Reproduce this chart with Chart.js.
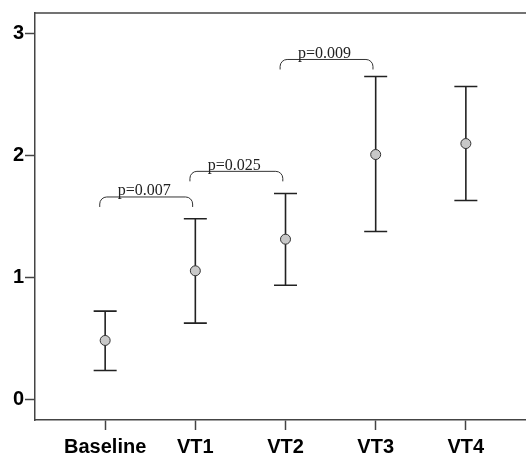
<!DOCTYPE html>
<html>
<head>
<meta charset="utf-8">
<script src="https://cdn.jsdelivr.net/npm/chart.js@4/dist/chart.umd.min.js"></script>
<style>
  html, body { margin: 0; padding: 0; background: #fff; overflow: hidden; }
  #wrap { width: 533px; height: 453px; position: relative; }
</style>
</head>
<body>
<div id="wrap"><canvas id="chart"></canvas></div>
<script>
// --- data ---
const groups = ['Baseline', 'VT1', 'VT2', 'VT3', 'VT4'];
const means = [0.484, 1.055, 1.314, 2.008, 2.098];
const upper = [0.724, 1.481, 1.689, 2.648, 2.566];
const lower = [0.238, 0.626, 0.937, 1.377, 1.631];
const yTicks = [0, 1, 2, 3];

// significance brackets: from group, to group, height, label
const bracketFrom = [0, 1, 2];
const bracketTo = [1, 2, 3];
const bracketY = [1.66, 1.87, 2.787];
const bracketLabels = ['p=0.007', 'p=0.025', 'p=0.009'];

const AXIS_COLOR = '#444';
const BAR_COLOR = '#222';

// --- error bars (drawn under the points) ---
const errorBars = {
  id: 'errorBars',
  beforeDatasetsDraw(chart) {
    const { ctx, scales: { x, y } } = chart;
    ctx.save();
    ctx.strokeStyle = BAR_COLOR;
    ctx.lineWidth = 1.6;
    groups.forEach((g, i) => {
      const px = x.getPixelForValue(i);
      const top = y.getPixelForValue(upper[i]);
      const bot = y.getPixelForValue(lower[i]);
      ctx.beginPath();
      ctx.moveTo(px, top); ctx.lineTo(px, bot);
      ctx.moveTo(px - 11.5, top); ctx.lineTo(px + 11.5, top);
      ctx.moveTo(px - 11.5, bot); ctx.lineTo(px + 11.5, bot);
      ctx.stroke();
    });
    ctx.restore();
  }
};

// --- p-value brackets + top frame line ---
const brackets = {
  id: 'brackets',
  afterDraw(chart) {
    const { ctx, chartArea, scales: { x, y } } = chart;
    ctx.save();
    // top frame
    ctx.strokeStyle = AXIS_COLOR;
    ctx.lineWidth = 1.5;
    ctx.beginPath();
    ctx.moveTo(chartArea.left, chartArea.top);
    ctx.lineTo(chartArea.right, chartArea.top);
    ctx.stroke();

    ctx.strokeStyle = '#333';
    ctx.lineWidth = 1;
    ctx.fillStyle = '#222';
    ctx.font = '16px "Liberation Serif", "Times New Roman", serif';
    ctx.textAlign = 'center';
    ctx.textBaseline = 'alphabetic';
    bracketLabels.forEach((lab, i) => {
      const x0 = x.getPixelForValue(bracketFrom[i] - 0.06);
      const x1 = x.getPixelForValue(bracketTo[i] - 0.03);
      const yy = y.getPixelForValue(bracketY[i]);
      const drop = 10, r = 7;
      ctx.beginPath();
      ctx.moveTo(x0, yy + drop);
      ctx.arcTo(x0, yy, x0 + r, yy, r);
      ctx.lineTo(x1 - r, yy);
      ctx.arcTo(x1, yy, x1, yy + drop, r);
      ctx.lineTo(x1, yy + drop);
      ctx.stroke();
      ctx.fillText(lab, (x0 + x1) / 2 - 2, yy - 1.5);
    });
    ctx.restore();
  }
};

new Chart(document.getElementById('chart'), {
  type: 'scatter',
  data: {
    datasets: [{
      data: means.map((m, i) => ({ x: i, y: m })),
      pointRadius: 5,
      pointHoverRadius: 5,
      backgroundColor: '#c8c8c8',
      borderColor: '#333',
      borderWidth: 1
    }]
  },
  options: {
    responsive: true,
    maintainAspectRatio: false,
    animation: false,
    layout: { padding: { top: 13, left: 0, right: 0, bottom: 0 } },
    plugins: { legend: { display: false }, tooltip: { enabled: false } },
    scales: {
      x: {
        type: 'linear',
        min: -0.778,
        max: 4.678,
        afterBuildTicks: s => { s.ticks = groups.map((g, i) => ({ value: i })); },
        afterFit: s => { s.height = 33; },
        ticks: {
          callback: v => groups[v],
          color: '#000',
          font: { family: '"Liberation Sans", Arial, sans-serif', size: 20, weight: 'bold' },
          padding: 5,
          maxRotation: 0,
          autoSkip: false
        },
        grid: { drawOnChartArea: false, drawTicks: true, tickLength: 10, tickColor: AXIS_COLOR, tickWidth: 1.5 },
        border: { display: true, color: AXIS_COLOR, width: 1.5 }
      },
      y: {
        min: -0.168,
        max: 3.168,
        afterBuildTicks: s => { s.ticks = yTicks.map(v => ({ value: v })); },
        afterFit: s => { s.width = 35; },
        ticks: {
          color: '#000',
          font: { family: '"Liberation Sans", Arial, sans-serif', size: 20, weight: 'bold' },
          padding: 1
        },
        grid: { drawOnChartArea: false, drawTicks: true, tickLength: 10, tickColor: AXIS_COLOR, tickWidth: 1.5 },
        border: { display: true, color: AXIS_COLOR, width: 1.5 }
      }
    }
  },
  plugins: [errorBars, brackets]
});
</script>
</body>
</html>
